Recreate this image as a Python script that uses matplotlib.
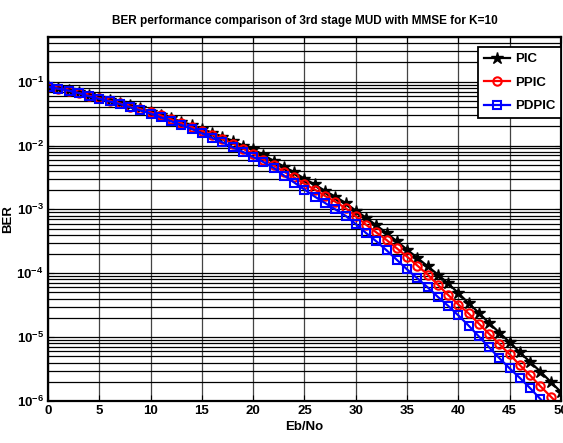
import matplotlib
matplotlib.use('Agg')
import matplotlib.pyplot as plt
import numpy as np
from matplotlib.ticker import LogLocator, NullFormatter

plt.rcParams['font.family'] = ['Liberation Sans', 'DejaVu Sans']
plt.rcParams['font.weight'] = 'bold'
plt.rcParams['mathtext.default'] = 'bf'

# Eb/No in dB
ebno = list(range(0, 51))

# log10(BER) for each detector
pic_log = [-1.07, -1.10, -1.13, -1.17, -1.21, -1.25, -1.29, -1.33, -1.37, -1.42,
           -1.47, -1.52, -1.57, -1.63, -1.68, -1.74, -1.80, -1.86, -1.93, -2.00,
           -2.06, -2.15, -2.24, -2.33, -2.42, -2.52, -2.61, -2.71, -2.80, -2.90,
           -3.02, -3.13, -3.25, -3.37, -3.50, -3.63, -3.76, -3.89, -4.02, -4.16,
           -4.31, -4.47, -4.62, -4.78, -4.93, -5.08, -5.24, -5.39, -5.54, -5.70,
           -5.86]
ppic_log = [-1.08, -1.11, -1.14, -1.18, -1.22, -1.26, -1.30, -1.34, -1.39, -1.43,
            -1.48, -1.53, -1.59, -1.65, -1.71, -1.77, -1.83, -1.90, -1.97, -2.05,
            -2.13, -2.22, -2.31, -2.41, -2.50, -2.60, -2.69, -2.79, -2.88, -2.98,
            -3.11, -3.24, -3.36, -3.48, -3.61, -3.74, -3.88, -4.02, -4.18, -4.34,
            -4.49, -4.63, -4.79, -4.95, -5.11, -5.27, -5.44, -5.60, -5.77, -5.93,
            -6.09]
pdpic_log = [-1.08, -1.11, -1.14, -1.18, -1.23, -1.27, -1.31, -1.35, -1.40, -1.45,
             -1.50, -1.56, -1.62, -1.68, -1.74, -1.81, -1.88, -1.95, -2.03, -2.10,
             -2.18, -2.26, -2.35, -2.47, -2.58, -2.69, -2.80, -2.90, -3.00, -3.10,
             -3.23, -3.37, -3.50, -3.64, -3.79, -3.94, -4.08, -4.22, -4.37, -4.51,
             -4.66, -4.82, -4.99, -5.16, -5.33, -5.49, -5.64, -5.80, -5.97, -6.13,
             -6.29]

pic = 10.0 ** np.array(pic_log)
ppic = 10.0 ** np.array(ppic_log)
pdpic = 10.0 ** np.array(pdpic_log)

fig = plt.figure(figsize=(5.63, 4.43), dpi=100)
ax = fig.add_axes([0.0853, 0.0948, 0.9111, 0.8217])

ax.semilogy(ebno, pic, '-*', color='black', lw=1.6, ms=9, mfc='black', mec='black', label='PIC')
ax.semilogy(ebno, ppic, '-o', color='red', lw=1.6, ms=6, mfc='none', mew=1.5, label='PPIC')
ax.semilogy(ebno, pdpic, '-s', color='blue', lw=1.6, ms=6, mfc='none', mew=1.5, label='PDPIC')

ax.set_xlim(0, 50)
ax.set_ylim(1e-6, 0.5)
ax.set_xticks(range(0, 51, 5))
ax.yaxis.set_major_locator(LogLocator(base=10, numticks=10))
ax.yaxis.set_minor_locator(LogLocator(base=10, subs=np.arange(2, 10), numticks=20))
ax.yaxis.set_minor_formatter(NullFormatter())

ax.grid(True, which='major', axis='x', color='#444444', lw=0.9)
ax.grid(True, which='both', axis='y', color='black', lw=0.9)

ax.tick_params(axis='both', which='major', direction='in', top=True, right=True,
               labelsize=9.5, length=4, pad=3)
ax.tick_params(axis='y', which='minor', length=0)
for lbl in ax.get_xticklabels() + ax.get_yticklabels():
    lbl.set_fontweight('bold')
for s in ax.spines.values():
    s.set_linewidth(1.6)

ax.set_title('BER performance comparison of 3rd stage MUD with MMSE for K=10',
             fontsize=8.5, fontweight='bold', pad=9)
ax.set_xlabel('Eb/No', fontsize=9.5, fontweight='bold', labelpad=3)
ax.set_ylabel('BER', fontsize=9.5, fontweight='bold')
ax.yaxis.set_label_coords(-0.066, 0.5)

leg = ax.legend(loc='upper right', bbox_to_anchor=(1.0, 0.972), borderaxespad=0,
                fontsize=9.5, handlelength=2.0, handletextpad=0.35, framealpha=1,
                fancybox=False, edgecolor='black', labelspacing=0.85, borderpad=0.45)
leg.get_frame().set_linewidth(1.3)
for t in leg.get_texts():
    t.set_fontweight('bold')

fig.savefig('out.png', dpi=100)
